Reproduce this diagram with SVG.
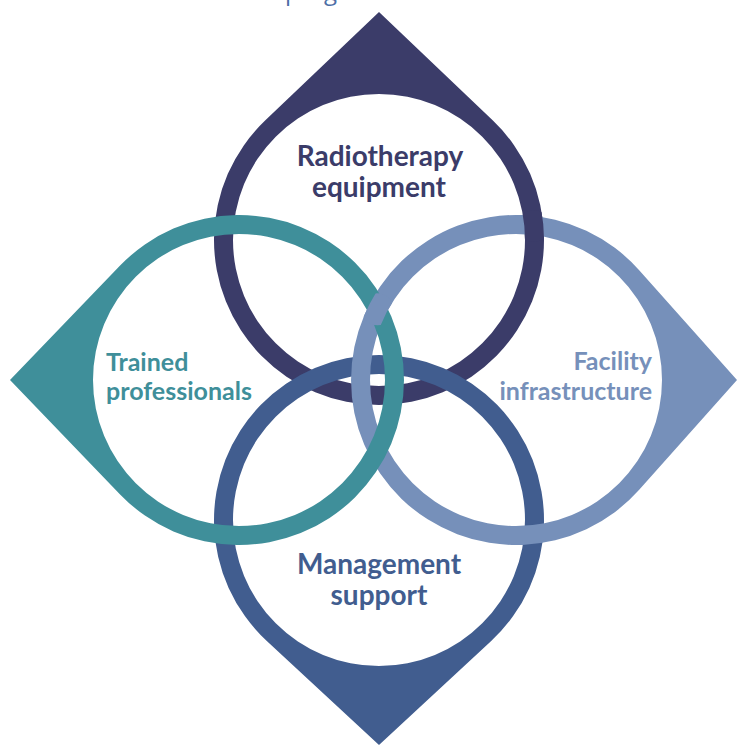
<svg xmlns="http://www.w3.org/2000/svg" xmlns:xlink="http://www.w3.org/1999/xlink" width="738" height="747" viewBox="0 0 738 747">
<style>
.lbl{font-family:Lato,"Open Sans","DejaVu Sans",sans-serif;font-weight:700}
.big{font-size:28px}
.side{font-size:25px}
.ring{fill-rule:evenodd}
.navy{fill:#3b3c69}
.blue{fill:#415d8f}
.lav{fill:#7690ba}
.teal{fill:#3f8f9a}
</style>
<defs>
<path id="ringT" class="ring" d="M379,12 L492.9,120.6 A165,165 0 1 1 265.1,120.6 Z M525,240 A146,146 0 1 0 233,240 A146,146 0 1 0 525,240 Z"/>
<path id="ringB" class="ring" d="M379,745 L266.8,641 A165,165 0 1 1 491.2,641 Z M525,520 A146,146 0 1 0 233,520 A146,146 0 1 0 525,520 Z"/>
<path id="ringR" class="ring" d="M737,380 L639.2,489.8 A165,165 0 1 1 639.2,270.2 Z M662,380 A146,146 0 1 0 370,380 A146,146 0 1 0 662,380 Z"/>
<path id="ringL" class="ring" d="M10,380 L120.1,265.6 A165,165 0 1 1 120.1,494.4 Z M385,380 A146,146 0 1 0 93,380 A146,146 0 1 0 385,380 Z"/>
<clipPath id="xTR"><circle cx="534" cy="226" r="16"/></clipPath>
<clipPath id="xLRtop"><circle cx="377.5" cy="309.3" r="16"/></clipPath>
</defs>
<rect width="738" height="747" fill="#ffffff"/>
<text x="285" y="-0.5" font-family="'Open Sans',sans-serif" font-size="24" fill="#4d6ea6">programme</text>
<g id="radiotherapy-equipment">
<use xlink:href="#ringT" class="navy"/>
<text class="lbl big" fill="#3b3c69" text-anchor="middle"><tspan x="380" y="166">Radiotherapy</tspan><tspan x="379" y="197">equipment</tspan></text>
</g>
<g id="management-support">
<use xlink:href="#ringB" class="blue"/>
<text class="lbl big" fill="#415d8f" text-anchor="middle"><tspan x="379" y="574">Management</tspan><tspan x="379" y="605">support</tspan></text>
</g>
<g id="facility-infrastructure">
<use xlink:href="#ringR" class="lav"/>
<text class="lbl side" fill="#7690ba" text-anchor="end"><tspan x="652" y="370">Facility</tspan><tspan x="652" y="400">infrastructure</tspan></text>
</g>
<g id="trained-professionals">
<use xlink:href="#ringL" class="teal"/>
<text class="lbl side" fill="#3f8f9a"><tspan x="106" y="371">Trained</tspan><tspan x="106" y="400">professionals</tspan></text>
</g>
<g id="crossings">
<use xlink:href="#ringT" class="navy" clip-path="url(#xTR)"/>
<use xlink:href="#ringR" class="lav" clip-path="url(#xLRtop)"/>
</g>
</svg>
